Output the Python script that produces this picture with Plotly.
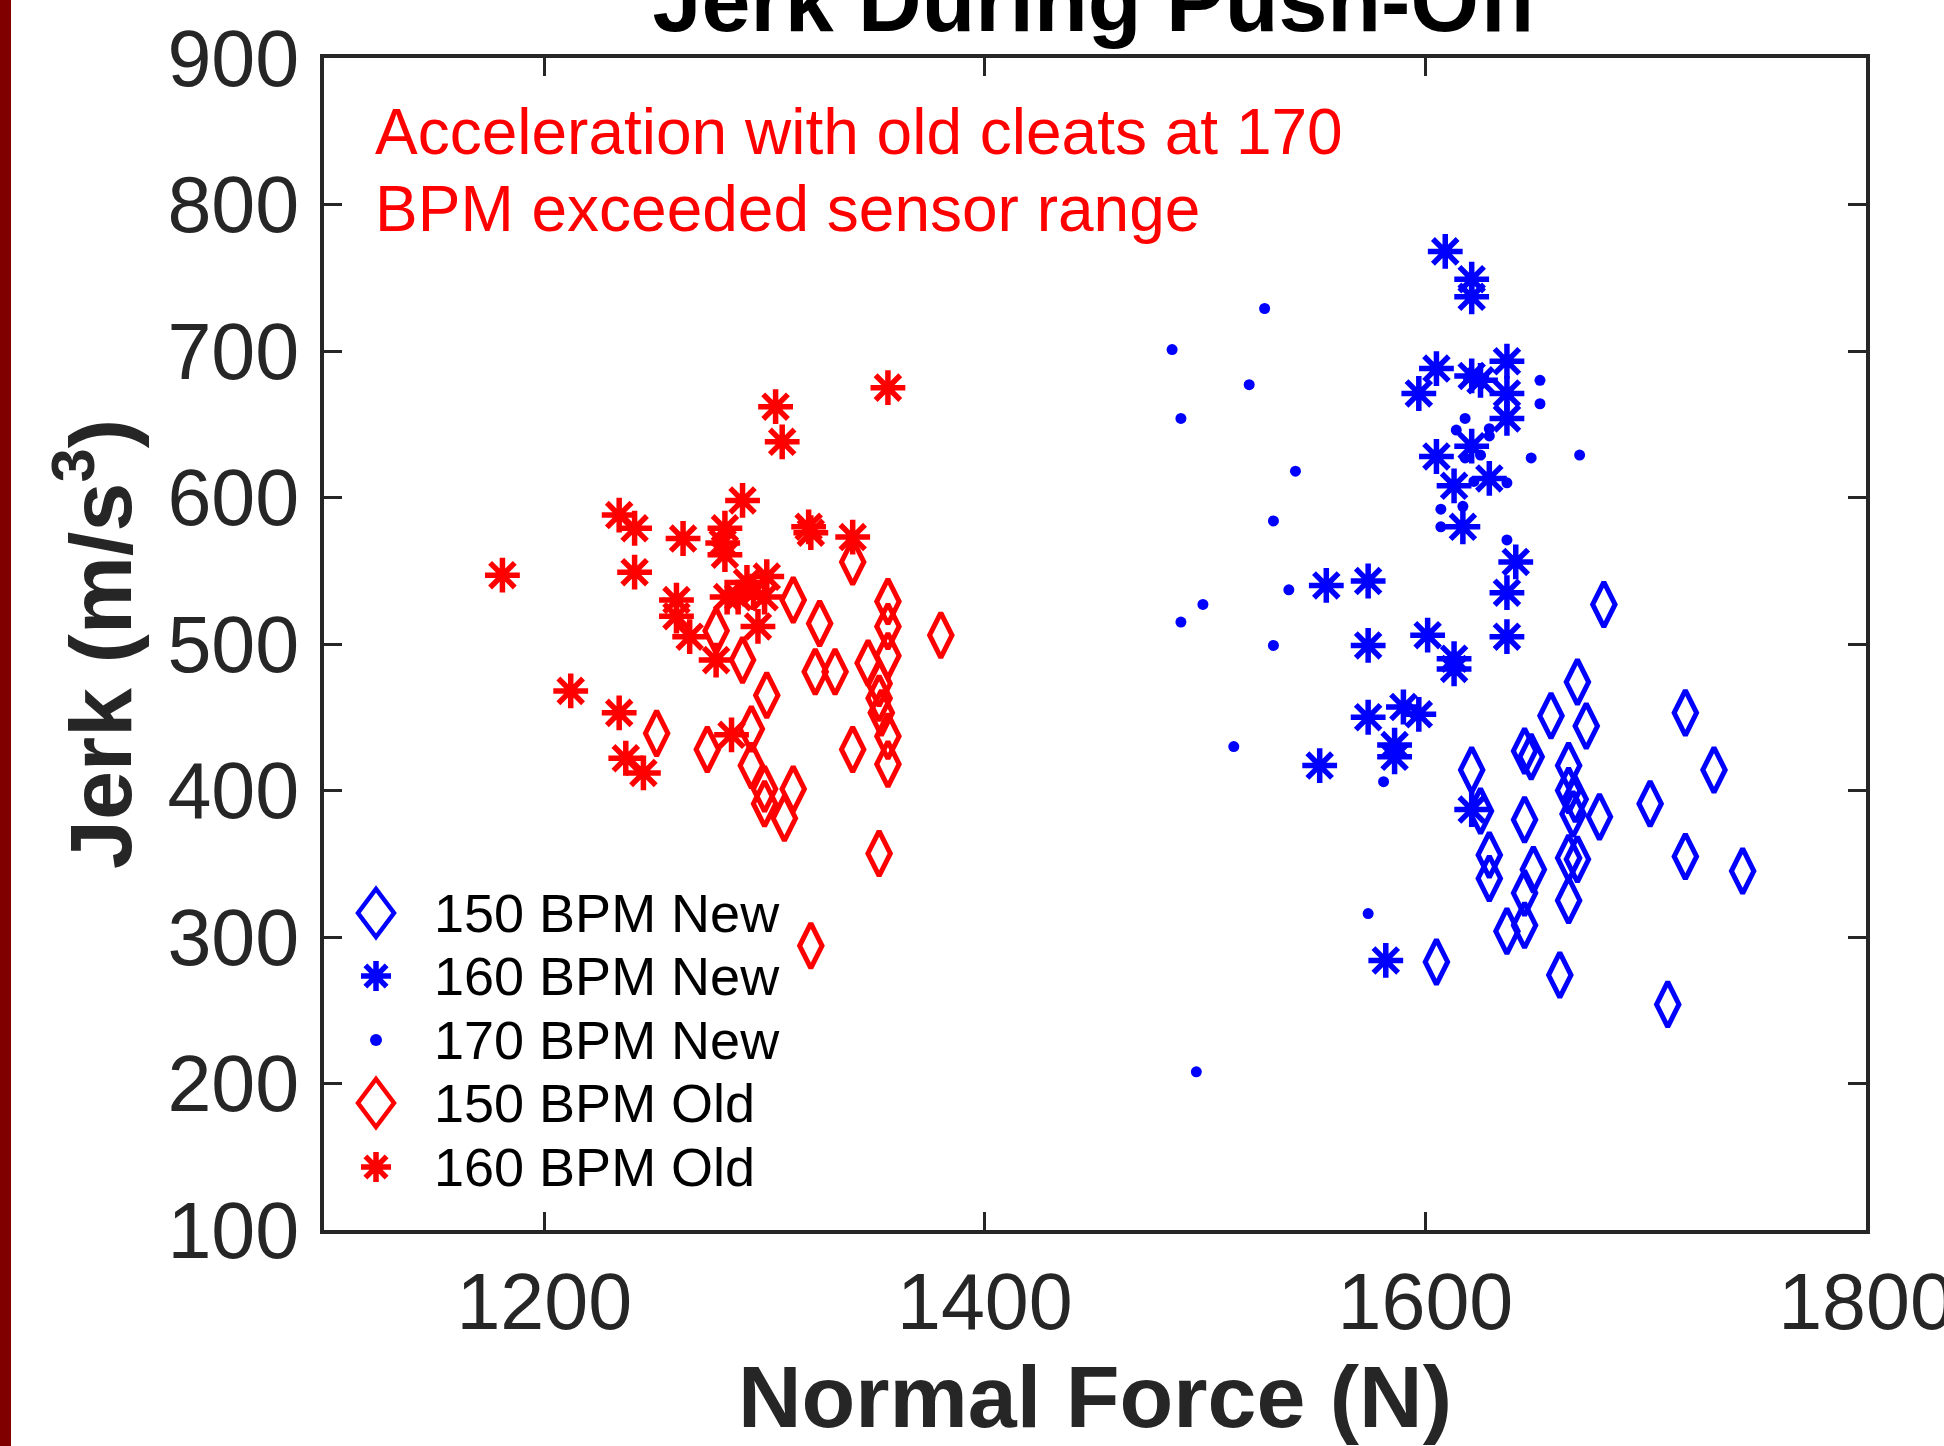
import plotly.graph_objects as go

# ---------------- data ----------------
new150_x = [1681, 1669, 1657, 1673, 1718, 1731, 1645, 1648, 1665, 1621, 1665, 1625, 1645, 1667, 1679, 1702,
            1629, 1629, 1649, 1665, 1669, 1645, 1718, 1744, 1665, 1637, 1645, 1605, 1661, 1710, 1668]
new150_y = [527, 474, 451, 444, 453, 414, 427, 423, 417, 414, 400, 386, 380, 384, 382, 391,
            356, 340, 346, 354, 353, 330, 355, 345, 325, 304, 308, 283, 274, 254, 394]

new160_x = [1609, 1621, 1621, 1605, 1597, 1621, 1625, 1637, 1637, 1637, 1621, 1605, 1629, 1613, 1617, 1641,
            1637, 1555, 1574, 1637, 1574, 1601, 1613, 1613, 1574, 1590, 1597, 1586, 1586, 1552, 1621, 1582]
new160_y = [768, 749, 737, 688, 671, 683, 680, 693, 671, 654, 635, 628, 613, 608, 580, 556,
            535, 540, 543, 505, 499, 506, 490, 483, 450, 457, 452, 431, 423, 417, 387, 284]

new170_x = [1527, 1485, 1520, 1489, 1541, 1531, 1538, 1652, 1652, 1618, 1614, 1629, 1629, 1618, 1625,
            1648, 1622, 1637, 1607, 1617, 1607, 1637, 1670, 1499, 1489, 1531, 1513, 1581, 1574, 1496]
new170_y = [729, 701, 677, 654, 618, 584, 537, 680, 664, 654, 646, 647, 642, 627, 629,
            627, 611, 610, 592, 594, 580, 571, 629, 527, 515, 499, 430, 406, 316, 208]

old150_x = [1340, 1356, 1313, 1325, 1278, 1356, 1380, 1290, 1356, 1323, 1332, 1347, 1352, 1352, 1301,
            1353, 1356, 1251, 1294, 1274, 1340, 1356, 1294, 1300, 1313, 1300, 1309, 1352, 1321]
old150_y = [556, 529, 530, 514, 509, 512, 506, 489, 492, 481, 481, 487, 473, 463, 465,
            453, 437, 439, 442, 428, 428, 418, 417, 401, 401, 391, 381, 357, 294]

old160_x = [1181, 1212, 1234, 1237, 1245, 1234, 1241, 1241, 1263, 1290, 1282, 1281, 1282, 1260, 1260, 1266,
            1278, 1285, 1321, 1340, 1292, 1301, 1300, 1288, 1283, 1297, 1305, 1308, 1356, 1320, 1295]
old160_y = [547, 468, 453, 422, 412, 588, 579, 549, 572, 598, 579, 569, 561, 530, 519, 505,
            489, 438, 576, 573, 542, 546, 532, 532, 532, 512, 662, 638, 675, 580, 535]

series_names = ["150 BPM New", "160 BPM New", "170 BPM New", "150 BPM Old", "160 BPM Old"]
x_ticks = [1200, 1400, 1600, 1800]
y_ticks = [100, 200, 300, 400, 500, 600, 700, 800, 900]

BLUE = "#0000FF"
RED = "#FF0000"
INK = "#262626"
FONT = "Liberation Sans, Arial, sans-serif"

fig = go.Figure()

def add(xs, ys, name, symbol, size, color, lw):
    fig.add_trace(go.Scatter(
        x=xs, y=ys, mode="markers", name=name, showlegend=False,
        marker=dict(symbol=symbol, size=size, color=color,
                    line=dict(width=lw, color=color)),
    ))

add(new150_x, new150_y, series_names[0], "diamond-tall-open", 32, BLUE, 5)
add(new160_x, new160_y, series_names[1], "asterisk-open", 29, BLUE, 5.5)
add(new170_x, new170_y, series_names[2], "circle", 11, BLUE, 0)
add(old150_x, old150_y, series_names[3], "diamond-tall-open", 32, RED, 5)
add(old160_x, old160_y, series_names[4], "asterisk-open", 29, RED, 5.5)

# ---------------- layout ----------------
L, R, T, B = 324, 78, 58, 216
W, H = 1944, 1446
pw, ph = W - L - R, H - T - B

def px2paper_x(px):
    return (px - L) / pw

def px2paper_y(py):
    return (H - B - py) / ph

axis_common = dict(
    showline=True, linewidth=4, linecolor=INK, mirror="ticks",
    ticks="inside", ticklen=18, tickwidth=3, tickcolor=INK,
    showgrid=False, zeroline=False,
    tickfont=dict(family=FONT, size=79, color=INK),
)

fig.update_layout(
    width=W, height=H,
    margin=dict(l=L, r=R, t=T, b=B, autoexpand=False),
    paper_bgcolor="white", plot_bgcolor="white",
    font=dict(family=FONT, color=INK),
    showlegend=False,
    title=dict(text="<b>Jerk During Push-Off</b>", x=0.5, xref="paper", xanchor="center",
               y=1 - 31 / H, yref="container", yanchor="bottom",
               font=dict(family=FONT, size=88, color="black")),
    xaxis=dict(range=[1100, 1800], tickvals=x_ticks, ticklabelstandoff=0, ticklabeloverflow="allow",
               title=dict(text="<b>Normal Force (N)</b>", font=dict(family=FONT, size=88, color=INK), standoff=50),
               **axis_common),
    yaxis=dict(range=[100, 900], tickvals=y_ticks, ticklabelstandoff=5,
               title=dict(text="<b>Jerk (m/s<sup>3</sup>)</b>", font=dict(family=FONT, size=88, color=INK), standoff=8),
               **axis_common),
)

# red note
note_lines = ["Acceleration with old cleats at 170", "BPM exceeded sensor range"]
for line, cy in zip(note_lines, [132, 209]):
    fig.add_annotation(text=line, xref="paper", yref="paper", x=px2paper_x(373), y=px2paper_y(cy),
                       xanchor="left", yanchor="middle", showarrow=False,
                       font=dict(family=FONT, size=64, color=RED))

# manual legend (MATLAB-style, box off)
leg_y = [913, 976, 1040, 1103, 1167]
sym_x = px2paper_x(376)
txt_x = px2paper_x(432)
leg_color = [BLUE, BLUE, BLUE, RED, RED]
leg_kind = ["diamond", "asterisk", "dot", "diamond", "asterisk"]
for name, cy, col, kind in zip(series_names, leg_y, leg_color, leg_kind):
    fig.add_annotation(text=name, xref="paper", yref="paper", x=txt_x, y=px2paper_y(cy),
                       xanchor="left", yanchor="middle", showarrow=False,
                       font=dict(family=FONT, size=54, color="black"))
    yp = px2paper_y(cy)
    if kind == "diamond":
        fig.add_shape(type="path", xref="paper", yref="paper", xsizemode="pixel", ysizemode="pixel",
                      xanchor=sym_x, yanchor=yp, path="M0,-24 L18,0 L0,24 L-18,0 Z",
                      line=dict(color=col, width=4.5), fillcolor="rgba(0,0,0,0)")
    elif kind == "asterisk":
        fig.add_shape(type="path", xref="paper", yref="paper", xsizemode="pixel", ysizemode="pixel",
                      xanchor=sym_x, yanchor=yp,
                      path="M0,-15 L0,15 M-15,0 L15,0 M-10.6,-10.6 L10.6,10.6 M-10.6,10.6 L10.6,-10.6",
                      line=dict(color=col, width=5.5))
    else:
        fig.add_shape(type="circle", xref="paper", yref="paper", xsizemode="pixel", ysizemode="pixel",
                      xanchor=sym_x, yanchor=yp, x0=-6, x1=6, y0=-6, y1=6,
                      line=dict(color=col, width=0), fillcolor=col)

# dark red strip on the left edge of the slide
fig.add_shape(type="rect", xref="paper", yref="paper", x0=px2paper_x(0), x1=px2paper_x(11),
              y0=-1, y1=2, line=dict(width=0), fillcolor="#800000", layer="below")

fig.write_html("out.html")
